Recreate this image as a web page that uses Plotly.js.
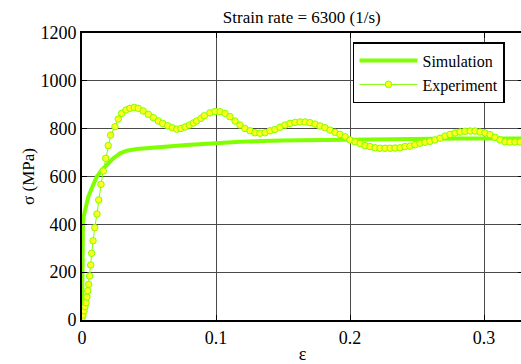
<!DOCTYPE html>
<html>
<head>
<meta charset="utf-8">
<script src="https://cdn.plot.ly/plotly-3.0.1.min.js"></script>
<style>
html,body{margin:0;padding:0;overflow:hidden;background:#fff;}
#chart{width:523px;height:364px;}
</style>
</head>
<body>
<div id="chart"></div>
<script>
// Simulation curve
var simStrain = [0, 0.0001, 0.0003, 0.0007, 0.0015, 0.0022, 0.0047, 0.0072, 0.011, 0.0147, 0.0184, 0.0234, 0.0284, 0.0334, 0.0408, 0.0532, 0.0657, 0.078, 0.0905, 0.103, 0.118, 0.148, 0.193, 0.237, 0.28, 0.329];
var simStress = [0, 150, 280, 405, 440, 460, 515, 550, 599, 627, 648, 676, 697, 708, 715, 722, 727, 732, 736, 741, 745, 751, 755, 758, 759, 759];

// Experiment curve
var expStrain = [0, 0.0007, 0.0015, 0.0022, 0.003, 0.0037, 0.0043, 0.005, 0.0057, 0.0065, 0.0072, 0.0082, 0.0095, 0.0112, 0.0125, 0.0142, 0.0159, 0.0177, 0.0196, 0.0214, 0.0246, 0.0271, 0.0296, 0.0328, 0.0358, 0.039, 0.042, 0.0457, 0.0495, 0.0532, 0.0569, 0.0602, 0.064, 0.0674, 0.0707, 0.0739, 0.0769, 0.0801, 0.0831, 0.0856, 0.0888, 0.0913, 0.0955, 0.0993, 0.103, 0.1067, 0.1104, 0.1142, 0.1179, 0.1216, 0.1254, 0.1291, 0.1328, 0.1366, 0.1403, 0.144, 0.1478, 0.1515, 0.1552, 0.159, 0.1627, 0.1664, 0.1701, 0.1739, 0.1776, 0.1813, 0.1851, 0.1888, 0.1925, 0.1963, 0.2, 0.2037, 0.2075, 0.2112, 0.2149, 0.2187, 0.2224, 0.2261, 0.2299, 0.2336, 0.2373, 0.241, 0.2448, 0.2485, 0.2522, 0.256, 0.2597, 0.2634, 0.2672, 0.2709, 0.2746, 0.2784, 0.2821, 0.2858, 0.2896, 0.2933, 0.297, 0.3007, 0.3045, 0.3082, 0.3119, 0.3157, 0.3194, 0.3231, 0.3269];
var expStress = [7, 21, 39, 56, 72, 96, 122, 149, 184, 230, 279, 331, 386, 443, 502, 567, 623, 676, 729, 773, 808, 840, 864, 878, 885, 889, 885, 874, 860, 846, 832, 822, 812, 804, 798, 801, 807, 815, 824, 832, 843, 854, 866, 872, 871, 864, 850, 832, 815, 801, 791, 783, 781, 783, 791, 797, 806, 815, 822, 826, 828, 828, 825, 819, 811, 804, 794, 785, 776, 766, 753, 745, 738, 729, 725, 720, 718, 718, 718, 719, 720, 725, 727, 733, 739, 743, 747, 753, 760, 769, 776, 782, 786, 789, 790, 790, 786, 782, 775, 764, 753, 745, 744, 744, 744];

var xTicks = [0, 0.1, 0.2, 0.3];
var xTickText = ['0', '0.1', '0.2', '0.3'];
var yTicks = [0, 200, 400, 600, 800, 1000, 1200];
var yTickText = ['0', '200', '400', '600', '800', '1000', '1200'];

var green = '#7fff00';

var traces = [
  {
    x: simStrain, y: simStress, name: 'Simulation', type: 'scatter', mode: 'lines',
    line: {color: green, width: 4}
  },
  {
    x: expStrain, y: expStress, name: 'Experiment', type: 'scatter', mode: 'lines+markers',
    line: {color: green, width: 1},
    marker: {symbol: 'circle', size: 6.5, color: '#ffff20', line: {color: green, width: 1}}
  }
];

var fontFam = 'Liberation Serif, Times New Roman, serif';

var layout = {
  width: 523, height: 364,
  margin: {l: 82, r: 0, t: 33, b: 44, pad: 0},
  paper_bgcolor: '#fff', plot_bgcolor: '#fff',
  font: {family: fontFam, size: 17, color: '#000'},
  title: {text: 'Strain rate = 6300 (1/s)', font: {family: fontFam, size: 17, color: '#000'},
          x: 0.577, xref: 'container', xanchor: 'center', y: 0.953, yref: 'container', yanchor: 'middle'},
  showlegend: true,
  legend: {x: 0.6145, xanchor: 'left', y: 0.968, yanchor: 'top', bgcolor: '#fff',
           bordercolor: '#000', borderwidth: 1.5, font: {family: fontFam, size: 16, color: '#000'},
           itemwidth: 58, tracegroupgap: 0},
  xaxis: {
    range: [0, 0.3291], tickvals: xTicks, ticktext: xTickText,
    showgrid: true, gridcolor: '#4a4a4a', gridwidth: 1,
    showline: true, linecolor: '#000', linewidth: 2, mirror: 'allticks',
    ticks: 'inside', ticklen: 5, tickcolor: '#000', zeroline: false,
    tickfont: {family: fontFam, size: 18, color: '#000'},
    title: {text: 'ε', font: {family: fontFam, size: 18, color: '#000'}, standoff: 4}
  },
  yaxis: {
    range: [0, 1200], tickvals: yTicks, ticktext: yTickText,
    showgrid: true, gridcolor: '#4a4a4a', gridwidth: 1,
    showline: true, linecolor: '#000', linewidth: 2, mirror: 'allticks',
    ticks: 'inside', ticklen: 5, tickcolor: '#000', zeroline: false,
    tickfont: {family: fontFam, size: 18, color: '#000'},
    title: {text: 'σ (MPa)', font: {family: fontFam, size: 17, color: '#000'}, standoff: 1}
  }
};

Plotly.newPlot('chart', traces, layout, {displayModeBar: false, staticPlot: true});
</script>
</body>
</html>
